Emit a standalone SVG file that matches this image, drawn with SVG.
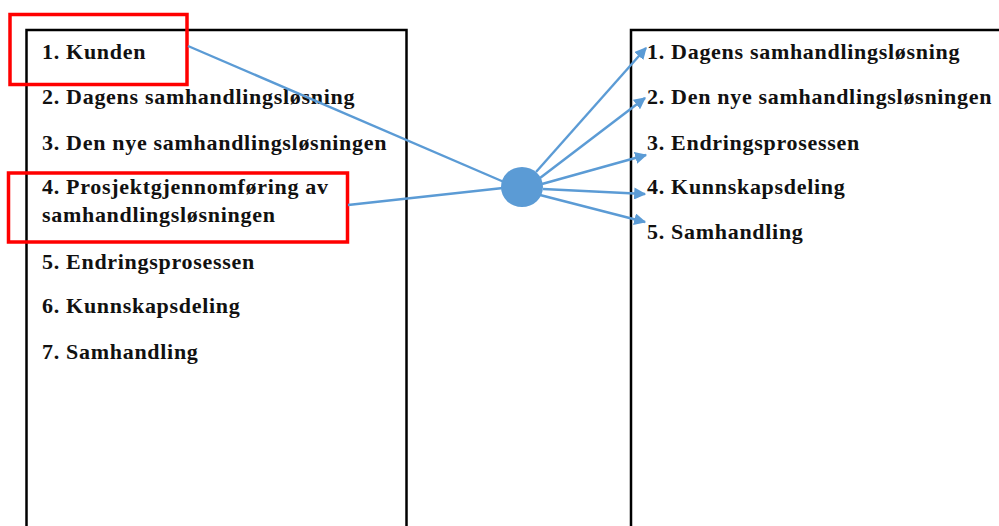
<svg xmlns="http://www.w3.org/2000/svg" width="999" height="526" viewBox="0 0 999 526">
  <style>
    .panel { fill: #ffffff; stroke: #000000; stroke-width: 2.5; }
    .mark { fill: none; stroke: #ff0000; stroke-width: 3.5; }
    .item { font-family: "Liberation Serif", "Times New Roman", serif; font-weight: bold; font-size: 22px; letter-spacing: 0.7px; fill: #111111; }
    .link { fill: none; stroke: #5b9bd5; stroke-width: 2.4; }
  </style>
  <defs>
    <marker id="arrow" viewBox="0 0 10 10" refX="9" refY="5" markerWidth="5" markerHeight="5" orient="auto" markerUnits="strokeWidth">
      <path d="M0,0 L10,5 L0,10 z" fill="#5b9bd5"/>
    </marker>
  </defs>
  <rect width="999" height="526" fill="#ffffff"/>

  <g id="left-panel">
    <rect class="panel" x="26.5" y="30" width="380" height="510"/>
    <text class="item" x="42" y="59">1. Kunden</text>
    <text class="item" x="42" y="104">2. Dagens samhandlingsløsning</text>
    <text class="item" x="42" y="150">3. Den nye samhandlingsløsningen</text>
    <text class="item" x="42" y="194">4. Prosjektgjennomføring av</text>
    <text class="item" x="42" y="222">samhandlingsløsningen</text>
    <text class="item" x="42" y="269">5. Endringsprosessen</text>
    <text class="item" x="42" y="313">6. Kunnskapsdeling</text>
    <text class="item" x="42" y="359">7. Samhandling</text>
  </g>

  <g id="right-panel">
    <rect class="panel" x="631" y="30" width="400" height="510"/>
    <text class="item" x="647" y="59">1. Dagens samhandlingsløsning</text>
    <text class="item" x="647" y="104">2. Den nye samhandlingsløsningen</text>
    <text class="item" x="647" y="150">3. Endringsprosessen</text>
    <text class="item" x="647" y="194">4. Kunnskapsdeling</text>
    <text class="item" x="647" y="239">5. Samhandling</text>
  </g>

  <g id="highlight-kunden">
    <rect class="mark" x="10" y="14.5" width="177" height="70"/>
  </g>
  <g id="highlight-prosjekt">
    <rect class="mark" x="8.5" y="173" width="339" height="69"/>
  </g>

  <g id="connectors">
    <line class="link" x1="188" y1="46" x2="504" y2="182"/>
    <line class="link" x1="348" y1="205" x2="503" y2="188"/>
    <line class="link" x1="536" y1="172" x2="646" y2="48" marker-end="url(#arrow)"/>
    <line class="link" x1="540" y1="178" x2="645" y2="98" marker-end="url(#arrow)"/>
    <line class="link" x1="542" y1="184" x2="646" y2="155" marker-end="url(#arrow)"/>
    <line class="link" x1="543" y1="189" x2="645" y2="194" marker-end="url(#arrow)"/>
    <line class="link" x1="540" y1="195" x2="645" y2="222" marker-end="url(#arrow)"/>
  </g>

  <g id="hub">
    <ellipse cx="522" cy="187" rx="21" ry="20" fill="#5b9bd5"/>
  </g>
</svg>
